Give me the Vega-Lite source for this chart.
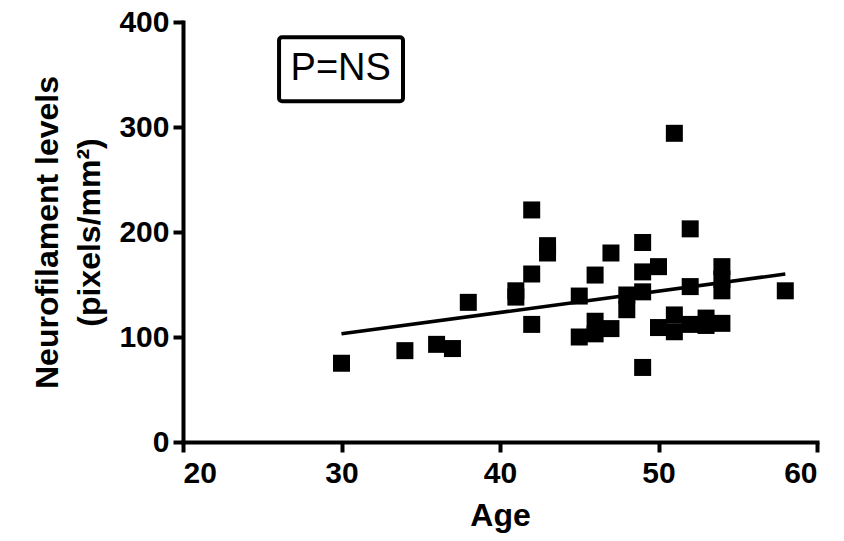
{
  "$schema": "https://vega.github.io/schema/vega-lite/v6.json",
  "autosize": "none",
  "width": 634,
  "height": 420,
  "padding": {"left": 183, "top": 22, "right": 27, "bottom": 99},
  "background": "white",
  "config": {
    "view": {"stroke": null},
    "axis": {
      "grid": false,
      "domainColor": "black",
      "domainWidth": 4,
      "domainCap": "square",
      "tickColor": "black",
      "tickWidth": 4,
      "tickSize": 10,
      "labelFont": "Liberation Sans",
      "labelFontWeight": "bold",
      "labelFontSize": 30,
      "labelColor": "black",
      "titleFont": "Liberation Sans",
      "titleFontWeight": "bold",
      "titleColor": "black"
    }
  },
  "datasets": {
    "points": [
      {"age": 30, "level": 75},
      {"age": 34, "level": 87},
      {"age": 36, "level": 93},
      {"age": 37, "level": 89},
      {"age": 38, "level": 133},
      {"age": 41, "level": 144},
      {"age": 41, "level": 138},
      {"age": 42, "level": 221},
      {"age": 42, "level": 160},
      {"age": 42, "level": 112},
      {"age": 43, "level": 187},
      {"age": 43, "level": 180},
      {"age": 45, "level": 139},
      {"age": 45, "level": 100},
      {"age": 46, "level": 159},
      {"age": 46, "level": 115},
      {"age": 46, "level": 103},
      {"age": 47, "level": 180},
      {"age": 47, "level": 108},
      {"age": 48, "level": 140},
      {"age": 48, "level": 126},
      {"age": 49, "level": 190},
      {"age": 49, "level": 162},
      {"age": 49, "level": 143},
      {"age": 49, "level": 71},
      {"age": 50, "level": 167},
      {"age": 50, "level": 109},
      {"age": 51, "level": 294},
      {"age": 51, "level": 121},
      {"age": 51, "level": 105},
      {"age": 52, "level": 203},
      {"age": 52, "level": 148},
      {"age": 52, "level": 112},
      {"age": 53, "level": 118},
      {"age": 53, "level": 111},
      {"age": 54, "level": 167},
      {"age": 54, "level": 155},
      {"age": 54, "level": 144},
      {"age": 54, "level": 113},
      {"age": 58, "level": 144}
    ],
    "fit": [
      {"age": 30, "level": 103},
      {"age": 58, "level": 160}
    ],
    "box": [
      {"x1": 26.06, "x2": 33.88, "y1": 385.5, "y2": 324.5, "tx": 29.95, "ty": 355, "label": "P=NS"}
    ]
  },
  "layer": [
    {
      "data": {"name": "fit"},
      "mark": {"type": "line", "color": "black", "strokeWidth": 3.5},
      "encoding": {
        "x": {
          "field": "age", "type": "quantitative",
          "scale": {"domain": [20, 60], "nice": false, "zero": false},
          "axis": {"values": [20, 30, 40, 50, 60], "title": "Age", "titleFontSize": 32, "labelPadding": 6, "titlePadding": 12}
        },
        "y": {
          "field": "level", "type": "quantitative",
          "scale": {"domain": [0, 400], "nice": false},
          "axis": {"values": [0, 100, 200, 300, 400], "title": ["Neurofilament levels", "(pixels/mm²)"], "titleFontSize": 32, "titleLineHeight": 42, "labelPadding": 4, "titlePadding": 12}
        }
      }
    },
    {
      "data": {"name": "points"},
      "mark": {"type": "point", "shape": "square", "filled": true, "color": "black", "opacity": 1, "size": 289},
      "encoding": {
        "x": {"field": "age", "type": "quantitative"},
        "y": {"field": "level", "type": "quantitative"}
      }
    },
    {
      "data": {"name": "box"},
      "mark": {"type": "rect", "fill": "white", "stroke": "black", "strokeWidth": 4, "cornerRadius": 3},
      "encoding": {
        "x": {"field": "x1", "type": "quantitative"},
        "x2": {"field": "x2"},
        "y": {"field": "y1", "type": "quantitative"},
        "y2": {"field": "y2"}
      }
    },
    {
      "data": {"name": "box"},
      "mark": {"type": "text", "font": "Liberation Sans", "fontSize": 38, "color": "black", "align": "center", "baseline": "middle"},
      "encoding": {
        "x": {"field": "tx", "type": "quantitative"},
        "y": {"field": "ty", "type": "quantitative"},
        "text": {"field": "label"}
      }
    }
  ]
}
